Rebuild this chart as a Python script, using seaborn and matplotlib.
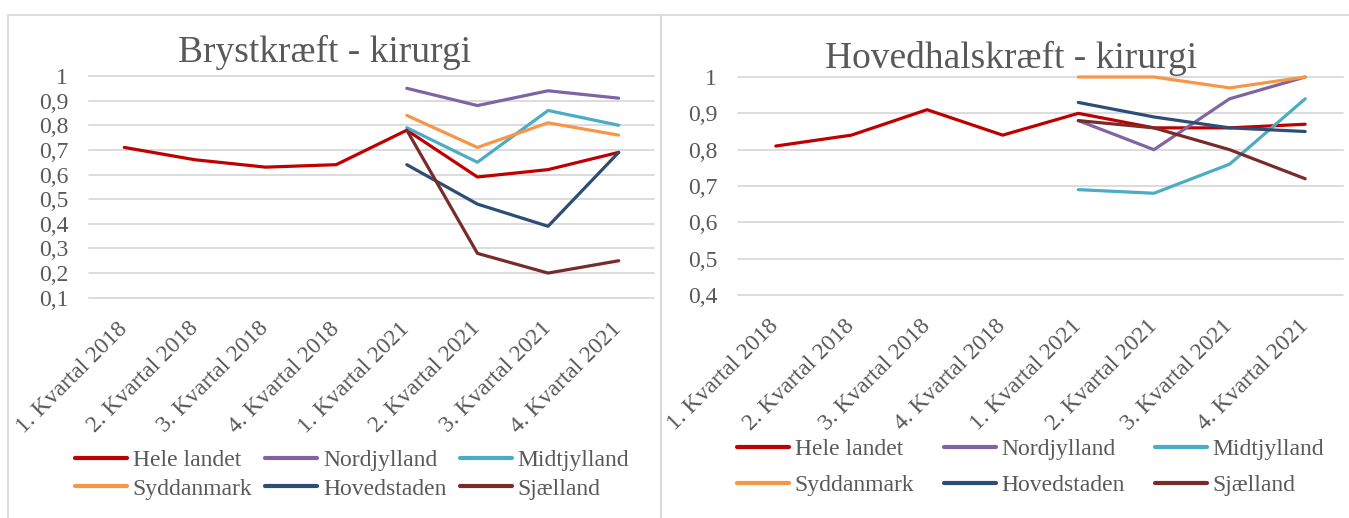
import numpy as np
import pandas as pd
import matplotlib
matplotlib.use("Agg")
import matplotlib.pyplot as plt
import seaborn as sns
from matplotlib.patches import Rectangle
from matplotlib.lines import Line2D

# ---------------- data ----------------
quarters = ["1. Kvartal 2018", "2. Kvartal 2018", "3. Kvartal 2018", "4. Kvartal 2018",
            "1. Kvartal 2021", "2. Kvartal 2021", "3. Kvartal 2021", "4. Kvartal 2021"]
regions = ["Hele landet", "Nordjylland", "Midtjylland", "Syddanmark", "Hovedstaden", "Sjælland"]
colors = ["#C00000", "#8064A2", "#4BACC6", "#F79646", "#2C4D75", "#772C2A"]

nan = np.nan
# Brystkræft - kirurgi
bryst_hele = [0.71, 0.66, 0.63, 0.64, 0.78, 0.59, 0.62, 0.69]
bryst_nord = [nan, nan, nan, nan, 0.95, 0.88, 0.94, 0.91]
bryst_midt = [nan, nan, nan, nan, 0.79, 0.65, 0.86, 0.80]
bryst_syd = [nan, nan, nan, nan, 0.84, 0.71, 0.81, 0.76]
bryst_hoved = [nan, nan, nan, nan, 0.64, 0.48, 0.39, 0.69]
bryst_sjael = [nan, nan, nan, nan, 0.78, 0.28, 0.20, 0.25]

# Hovedhalskræft - kirurgi
hoved_hele = [0.81, 0.84, 0.91, 0.84, 0.90, 0.86, 0.86, 0.87]
hoved_nord = [nan, nan, nan, nan, 0.88, 0.80, 0.94, 1.00]
hoved_midt = [nan, nan, nan, nan, 0.69, 0.68, 0.76, 0.94]
hoved_syd = [nan, nan, nan, nan, 1.00, 1.00, 0.97, 1.00]
hoved_hoved = [nan, nan, nan, nan, 0.93, 0.89, 0.86, 0.85]
hoved_sjael = [nan, nan, nan, nan, 0.88, 0.86, 0.80, 0.72]

bryst_ticks = [0.1, 0.2, 0.3, 0.4, 0.5, 0.6, 0.7, 0.8, 0.9, 1.0]
bryst_ticklabels = ["0,1", "0,2", "0,3", "0,4", "0,5", "0,6", "0,7", "0,8", "0,9", "1"]
hoved_ticks = [0.4, 0.5, 0.6, 0.7, 0.8, 0.9, 1.0]
hoved_ticklabels = ["0,4", "0,5", "0,6", "0,7", "0,8", "0,9", "1"]

titles = ["Brystkræft - kirurgi", "Hovedhalskræft - kirurgi"]


def to_long(series_list):
    rows = []
    for reg, vals in zip(regions, series_list):
        for q, v in zip(quarters, vals):
            if not np.isnan(v):
                rows.append({"Kvartal": q, "Andel": v, "Region": reg})
    return pd.DataFrame(rows)


df_bryst = to_long([bryst_hele, bryst_nord, bryst_midt, bryst_syd, bryst_hoved, bryst_sjael])
df_hoved = to_long([hoved_hele, hoved_nord, hoved_midt, hoved_syd, hoved_hoved, hoved_sjael])

# ---------------- style ----------------
sns.set_theme(style="white")
plt.rcParams["font.family"] = ["Liberation Serif", "DejaVu Serif"]
TXT = "#595959"
GRID = "#D9D9D9"

W, H = 1349, 518
fig = plt.figure(figsize=(W / 100, H / 100), dpi=100)
fig.patch.set_facecolor("white")


def fx(px):
    return px / W


def fy(py):
    return 1 - py / H


# panel borders
fig.add_artist(Rectangle((fx(7.5), fy(540)), fx(661) - fx(7.5), fy(15) - fy(540),
                         transform=fig.transFigure, fill=False, edgecolor=GRID, lw=1.3))
fig.add_artist(Rectangle((fx(661), fy(540)), fx(1400) - fx(661), fy(15) - fy(540),
                         transform=fig.transFigure, fill=False, edgecolor=GRID, lw=1.3))

pal = dict(zip(regions, colors))

panels = [
    dict(df=df_bryst, ylim=(0.1, 1.0), ticks=bryst_ticks, labels=bryst_ticklabels,
         box=(89, 654, 76, 297.7), title_xy=(324.5, 62)),
    dict(df=df_hoved, ylim=(0.4, 1.0), ticks=hoved_ticks, labels=hoved_ticklabels,
         box=(738, 1343, 77, 295), title_xy=(1011, 68)),
]

for i, p in enumerate(panels):
    x0, x1, ytop, ybot = p["box"]
    ax = fig.add_axes([fx(x0), fy(ybot), fx(x1) - fx(x0), fy(ytop) - fy(ybot)])
    ax.set_facecolor("none")
    sns.lineplot(data=p["df"], x="Kvartal", y="Andel", hue="Region", hue_order=regions,
                 palette=pal, linewidth=2.3, ax=ax, legend=False, sort=False)
    for ln in ax.get_lines():
        ln.set_clip_on(False)
        ln.set_solid_capstyle("round")
    ax.set_xlim(-0.5, 7.5)
    ax.set_ylim(*p["ylim"])
    ax.set_xticks(range(len(quarters)))
    ax.set_xticklabels(quarters, rotation=45, ha="right", va="center",
                       rotation_mode="anchor", color=TXT, fontsize=17)
    ax.set_yticks(p["ticks"])
    ax.set_yticklabels(p["labels"], color=TXT, fontsize=17)
    ax.tick_params(axis="x", length=0, pad=20)
    ax.tick_params(axis="y", length=0, pad=15)
    ax.set_xlabel("")
    ax.set_ylabel("")
    ax.grid(False)
    for t in p["ticks"]:
        ax.axhline(t, color=GRID, lw=1.3, zorder=0, clip_on=False)
    for s in ax.spines.values():
        s.set_visible(False)
    tx, ty = p["title_xy"]
    fig.text(fx(tx), fy(ty), titles[i], ha="center", va="baseline", fontsize=27, color=TXT)

# legend filled row by row (matplotlib fills column-wise, so reorder)
ncol = 3
order = [r * ncol + c for c in range(ncol) for r in range(2)]
handles = [Line2D([0], [0], color=colors[k], lw=3) for k in order]
labels = [regions[k] for k in order]
fig.legend(handles, labels, ncol=ncol, loc="center left",
           bbox_to_anchor=(fx(75), fy(474.5)), frameon=False, borderpad=0, borderaxespad=0,
           handlelength=2.2, handletextpad=0.25, columnspacing=0.55, labelspacing=0.3,
           fontsize=17, labelcolor=TXT)
fig.legend(handles, labels, ncol=ncol, loc="center left",
           bbox_to_anchor=(fx(737), fy(467.5)), frameon=False, borderpad=0, borderaxespad=0,
           handlelength=2.2, handletextpad=0.25, columnspacing=1.25, labelspacing=0.6,
           fontsize=17, labelcolor=TXT)

fig.savefig("out.png", dpi=100, facecolor="white")
